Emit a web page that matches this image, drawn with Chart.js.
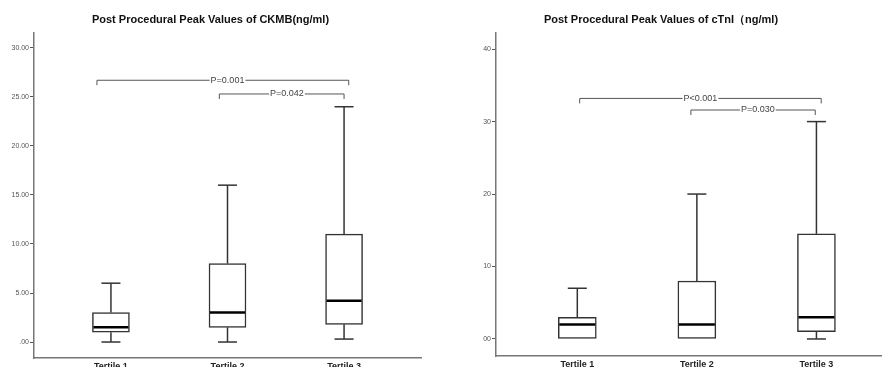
<!DOCTYPE html>
<html>
<head>
<meta charset="utf-8">
<script src="https://cdn.jsdelivr.net/npm/chart.js@4.4.1/dist/chart.umd.min.js"></script>
<style>
    html, body { margin: 0; padding: 0; background: #fff; }
    .wrap { display: flex; width: 882px; height: 367px; overflow: hidden; }
    .wrap div { width: 441px; height: 367px; }
</style>
</head>
<body>
<div class="wrap">
    <div><canvas id="ckmbChart" width="441" height="367"></canvas></div>
    <div><canvas id="ctniChart" width="441" height="367"></canvas></div>
</div>
<script>
const tertis = ['Tertile 1', 'Tertile 2', 'Tertile 3'];

// CKMB (ng/ml)
const ckmbMin = [0, 0, 0.3];
const ckmbQ1 = [1, 1.5, 1.8];
const ckmbMedian = [1.5, 3, 4.2];
const ckmbQ3 = [3, 8, 11];
const ckmbMax = [6, 16, 24];
const ckmbTicks = [0, 5, 10, 15, 20, 25, 30];
const ckmbPLabels = ['P=0.001', 'P=0.042'];

// cTnI (ng/ml)
const ctniMin = [0, 0, 0];
const ctniQ1 = [0, 0, 1];
const ctniMedian = [2, 2, 3];
const ctniQ3 = [3, 8, 14.5];
const ctniMax = [7, 20, 30];
const ctniTicks = [0, 10, 20, 30, 40];
const ctniPLabels = ['P<0.001', 'P=0.030'];

// whiskers, caps, medians and p-value brackets
const boxExtras = {
    id: 'boxExtras',
    afterDatasetsDraw(chart, args, opts) {
        const ctx = chart.ctx;
        const x = chart.scales.x;
        const y = chart.scales.y;
        const half = opts.boxWidth / 2;
        const cap = opts.capWidth / 2;

        function line(x1, y1, x2, y2) {
            ctx.beginPath();
            ctx.moveTo(x1, y1);
            ctx.lineTo(x2, y2);
            ctx.stroke();
        }

        ctx.save();
        opts.medians.forEach((m, i) => {
            const px = x.getPixelForValue(i + 1);
            ctx.strokeStyle = '#333';
            ctx.lineWidth = 1.5;
            line(px, y.getPixelForValue(opts.q3[i]), px, y.getPixelForValue(opts.max[i]));
            line(px - cap, y.getPixelForValue(opts.max[i]), px + cap, y.getPixelForValue(opts.max[i]));
            if (opts.min[i] < opts.q1[i]) {
                line(px, y.getPixelForValue(opts.q1[i]), px, y.getPixelForValue(opts.min[i]));
                line(px - cap, y.getPixelForValue(opts.min[i]), px + cap, y.getPixelForValue(opts.min[i]));
            }
            ctx.strokeStyle = '#000';
            ctx.lineWidth = 2.5;
            line(px - half + 1, y.getPixelForValue(m), px + half - 1, y.getPixelForValue(m));
        });

        ctx.font = '9px Arial, "Liberation Sans", sans-serif';
        ctx.textAlign = 'center';
        ctx.textBaseline = 'middle';
        opts.brackets.forEach(b => {
            const x1 = x.getPixelForValue(b.from);
            const x2 = x.getPixelForValue(b.to);
            const py = y.getPixelForValue(b.at);
            ctx.strokeStyle = '#555';
            ctx.lineWidth = 1;
            ctx.beginPath();
            ctx.moveTo(x1, py + 5);
            ctx.lineTo(x1, py);
            ctx.lineTo(x2, py);
            ctx.lineTo(x2, py + 5);
            ctx.stroke();
            const tx = x.getPixelForValue(b.mid);
            const w = ctx.measureText(b.text).width;
            ctx.fillStyle = '#fff';
            ctx.fillRect(tx - w / 2 - 1, py - 5, w + 2, 10);
            ctx.fillStyle = '#444';
            ctx.fillText(b.text, tx, py);
        });
        ctx.restore();
    }
};

function criarBoxplot(id, cfg) {
    const ctx = document.getElementById(id).getContext('2d');
    return new Chart(ctx, {
        type: 'bar',
        data: {
            datasets: [{
                data: tertis.map((t, i) => ({ x: i + 1, y: [cfg.q1[i], cfg.q3[i]] })),
                backgroundColor: '#fff',
                borderColor: '#333',
                borderWidth: 1.5,
                borderSkipped: false,
                barThickness: cfg.boxWidth
            }]
        },
        plugins: [boxExtras],
        options: {
            responsive: false,
            animation: false,
            layout: { padding: { left: 0, right: cfg.padRight, top: 0, bottom: 0 } },
            plugins: {
                legend: { display: false },
                tooltip: { enabled: false },
                title: {
                    display: true,
                    text: cfg.title,
                    color: '#111',
                    font: { size: 11, weight: 'bold', family: 'Arial, "Liberation Sans", sans-serif' },
                    padding: { top: 13, bottom: 7 }
                },
                boxExtras: {
                    boxWidth: cfg.boxWidth,
                    capWidth: 19,
                    min: cfg.min, q1: cfg.q1, medians: cfg.median, q3: cfg.q3, max: cfg.max,
                    brackets: cfg.brackets
                }
            },
            scales: {
                x: {
                    type: 'linear',
                    offset: false,
                    min: cfg.xMin,
                    max: cfg.xMax,
                    afterBuildTicks: s => { s.ticks = tertis.map((t, i) => ({ value: i + 1 })); },
                    afterFit: s => { s.height = cfg.xHeight; },
                    grid: { display: false, drawTicks: false },
                    border: { display: true, color: '#777', width: 1.5 },
                    ticks: {
                        autoSkip: false,
                        maxRotation: 0,
                        padding: 3,
                        color: '#222',
                        font: { size: 9, weight: 'bold', family: 'Arial, "Liberation Sans", sans-serif' },
                        callback: (v, i) => tertis[i]
                    }
                },
                y: {
                    min: cfg.yMin,
                    max: cfg.yMax,
                    afterBuildTicks: s => { s.ticks = cfg.ticks.map(v => ({ value: v })); },
                    afterFit: s => { s.width = cfg.yWidth; },
                    grid: { drawOnChartArea: false, drawTicks: true, tickLength: 4, color: '#555', lineWidth: 1 },
                    border: { display: true, color: '#777', width: 1.5 },
                    ticks: {
                        padding: 1,
                        color: '#555',
                        font: { size: 7, family: 'Arial, "Liberation Sans", sans-serif' },
                        callback: cfg.tickLabel
                    }
                }
            }
        }
    });
}

criarBoxplot('ckmbChart', {
    title: 'Post Procedural Peak Values of CKMB(ng/ml)',
    min: ckmbMin, q1: ckmbQ1, median: ckmbMedian, q3: ckmbQ3, max: ckmbMax,
    ticks: ckmbTicks,
    tickLabel: v => v === 0 ? '.00' : v.toFixed(2),
    yMin: -1.63, yMax: 31.5,
    xMin: 0.34, xMax: 3.66,
    yWidth: 34, xHeight: 9, padRight: 20,
    boxWidth: 37,
    brackets: [
        { from: 0.88, to: 3.04, at: 26.7, mid: 2.0, text: ckmbPLabels[0] },
        { from: 1.93, to: 3.0, at: 25.3, mid: 2.51, text: ckmbPLabels[1] }
    ]
});

criarBoxplot('ctniChart', {
    title: 'Post Procedural Peak Values of cTnI（ng/ml)',
    min: ctniMin, q1: ctniQ1, median: ctniMedian, q3: ctniQ3, max: ctniMax,
    ticks: ctniTicks,
    tickLabel: v => v === 0 ? '00' : String(v),
    yMin: -2.35, yMax: 42.2,
    xMin: 0.32, xMax: 3.54,
    yWidth: 55, xHeight: 11, padRight: 1,
    boxWidth: 38,
    brackets: [
        { from: 1.02, to: 3.04, at: 33.2, mid: 2.03, text: ctniPLabels[0] },
        { from: 1.95, to: 2.99, at: 31.6, mid: 2.51, text: ctniPLabels[1] }
    ]
});
</script>
</body>
</html>
